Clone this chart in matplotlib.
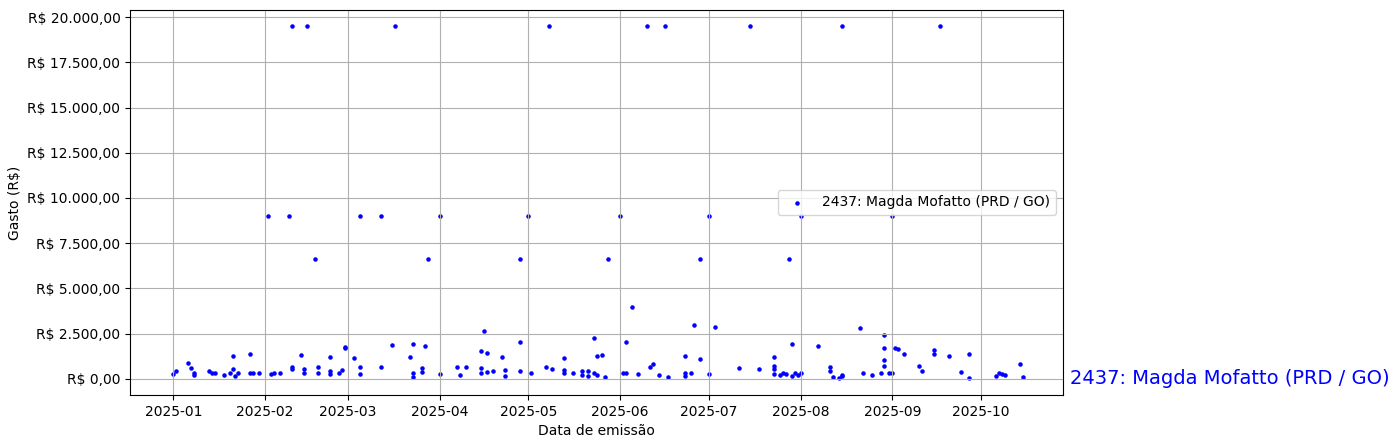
import matplotlib
matplotlib.use("Agg")
import matplotlib.pyplot as plt
import matplotlib.dates as mdates
import matplotlib.ticker as mticker
import pandas as pd

LABEL = "2437: Magda Mofatto (PRD / GO)"

# valores altos repetidos: datas por nível
datas_19500 = ["2025-02-10", "2025-02-15", "2025-03-17", "2025-05-08", "2025-06-10",
               "2025-06-16", "2025-07-15", "2025-08-15", "2025-09-17"]
datas_9000 = ["2025-02-02", "2025-02-09", "2025-03-05", "2025-03-12", "2025-04-01",
              "2025-05-01", "2025-06-01", "2025-07-01", "2025-08-01", "2025-09-01"]
datas_6600 = ["2025-02-18", "2025-03-28", "2025-04-28", "2025-05-28", "2025-06-28",
              "2025-07-28"]

# demais lançamentos (data, valor)
outros = [
    ("2025-04-16", 2650), ("2025-04-28", 2050), ("2025-05-23", 2250), ("2025-06-03", 2050),
    ("2025-06-05", 3950), ("2025-06-26", 3000), ("2025-06-28", 1100), ("2025-07-03", 2850),
    ("2025-07-29", 1900), ("2025-08-07", 1800), ("2025-08-21", 2800), ("2025-08-29", 2400),
    ("2025-08-29", 1700), ("2025-09-02", 1700), ("2025-09-03", 1650), ("2025-09-05", 1350),
    ("2025-09-15", 1350), ("2025-09-15", 1600), ("2025-09-20", 1250), ("2025-09-27", 1350),
    ("2025-10-14", 800), ("2025-03-16", 1850), ("2025-03-23", 1900), ("2025-03-27", 1800),
    ("2025-02-28", 1750), ("2025-02-28", 1700), ("2025-01-21", 1250), ("2025-01-27", 1350),
    ("2025-02-13", 1300), ("2025-02-23", 1200), ("2025-03-03", 1150), ("2025-03-22", 1200),
    ("2025-04-15", 1550), ("2025-04-17", 1450), ("2025-04-22", 1200), ("2025-05-13", 1150),
    ("2025-05-24", 1250), ("2025-05-26", 1300), ("2025-06-23", 1250), ("2025-07-23", 1200),
    ("2025-08-29", 1050),
    ("2025-01-01", 250), ("2025-01-02", 450), ("2025-01-06", 850), ("2025-01-07", 600),
    ("2025-01-08", 350), ("2025-01-08", 200), ("2025-01-13", 450), ("2025-01-14", 300),
    ("2025-01-15", 350), ("2025-01-18", 200), ("2025-01-20", 350), ("2025-01-21", 550),
    ("2025-01-22", 150), ("2025-01-23", 300), ("2025-01-27", 350), ("2025-01-28", 300),
    ("2025-01-30", 350), ("2025-02-03", 250), ("2025-02-04", 300), ("2025-02-06", 350),
    ("2025-02-10", 650), ("2025-02-10", 550), ("2025-02-14", 350), ("2025-02-14", 550),
    ("2025-02-19", 300), ("2025-02-19", 650), ("2025-02-23", 250), ("2025-02-23", 450),
    ("2025-02-26", 350), ("2025-02-27", 500), ("2025-03-05", 250), ("2025-03-05", 650),
    ("2025-03-12", 650), ("2025-03-23", 300), ("2025-03-23", 100), ("2025-03-26", 600),
    ("2025-03-26", 400), ("2025-04-01", 250), ("2025-04-07", 650), ("2025-04-08", 200),
    ("2025-04-10", 650), ("2025-04-15", 300), ("2025-04-15", 600), ("2025-04-17", 400),
    ("2025-04-19", 450), ("2025-04-23", 150), ("2025-04-23", 500), ("2025-04-28", 450),
    ("2025-05-02", 300), ("2025-05-07", 650), ("2025-05-09", 550), ("2025-05-13", 300),
    ("2025-05-13", 500), ("2025-05-16", 350), ("2025-05-19", 200), ("2025-05-19", 450),
    ("2025-05-21", 150), ("2025-05-21", 450), ("2025-05-23", 300), ("2025-05-24", 200),
    ("2025-05-27", 100), ("2025-06-02", 300), ("2025-06-03", 350), ("2025-06-07", 250),
    ("2025-06-11", 650), ("2025-06-12", 800), ("2025-06-14", 200), ("2025-06-17", 100),
    ("2025-06-23", 350), ("2025-06-23", 150), ("2025-06-25", 300), ("2025-07-01", 250),
    ("2025-07-11", 600), ("2025-07-18", 550), ("2025-07-23", 700), ("2025-07-23", 550),
    ("2025-07-23", 250), ("2025-07-25", 200), ("2025-07-26", 350), ("2025-07-27", 250),
    ("2025-07-29", 150), ("2025-07-30", 300), ("2025-07-31", 200), ("2025-08-01", 300),
    ("2025-08-11", 650), ("2025-08-11", 450), ("2025-08-12", 100), ("2025-08-14", 50),
    ("2025-08-15", 200), ("2025-08-15", 150), ("2025-08-22", 300), ("2025-08-25", 200),
    ("2025-08-28", 300), ("2025-08-29", 700), ("2025-08-31", 300), ("2025-09-01", 300),
    ("2025-09-10", 700), ("2025-09-11", 450), ("2025-09-24", 400), ("2025-09-27", 50),
    ("2025-10-06", 150), ("2025-10-07", 300), ("2025-10-08", 250), ("2025-10-09", 200),
    ("2025-10-15", 100),
]

datas = datas_19500 + datas_9000 + datas_6600 + [d for d, _ in outros]
valores = ([19500] * len(datas_19500) + [9000] * len(datas_9000)
           + [6600] * len(datas_6600) + [v for _, v in outros])

df = pd.DataFrame({"data": pd.to_datetime(datas), "valor": valores})


def brl(v, pos=None):
    s = f"{v:,.2f}".replace(",", "X").replace(".", ",").replace("X", ".")
    return f"R$ {s}"


fig, ax = plt.subplots(figsize=(14, 4.48), dpi=100)
ax.scatter(df["data"], df["valor"], s=5, color="blue", label=LABEL)
ax.set_xlabel("Data de emissão")
ax.set_ylabel("Gasto (R$)")
ax.yaxis.set_major_formatter(mticker.FuncFormatter(brl))
ax.xaxis.set_major_locator(mdates.MonthLocator())
ax.xaxis.set_major_formatter(mdates.DateFormatter("%Y-%m"))
ax.set_xlim(pd.Timestamp("2024-12-17 10:00"), pd.Timestamp("2025-10-28 12:00"))
ax.set_ylim(-900, 20400)
ax.grid(True)
ax.legend(loc="center right")
ax.text(1.008, 900 / 21300, LABEL, transform=ax.transAxes,
        color="blue", fontsize=14, va="center", ha="left")
fig.subplots_adjust(left=0.093, right=0.759, top=0.978, bottom=0.118)
fig.savefig("out.png", dpi=100)
